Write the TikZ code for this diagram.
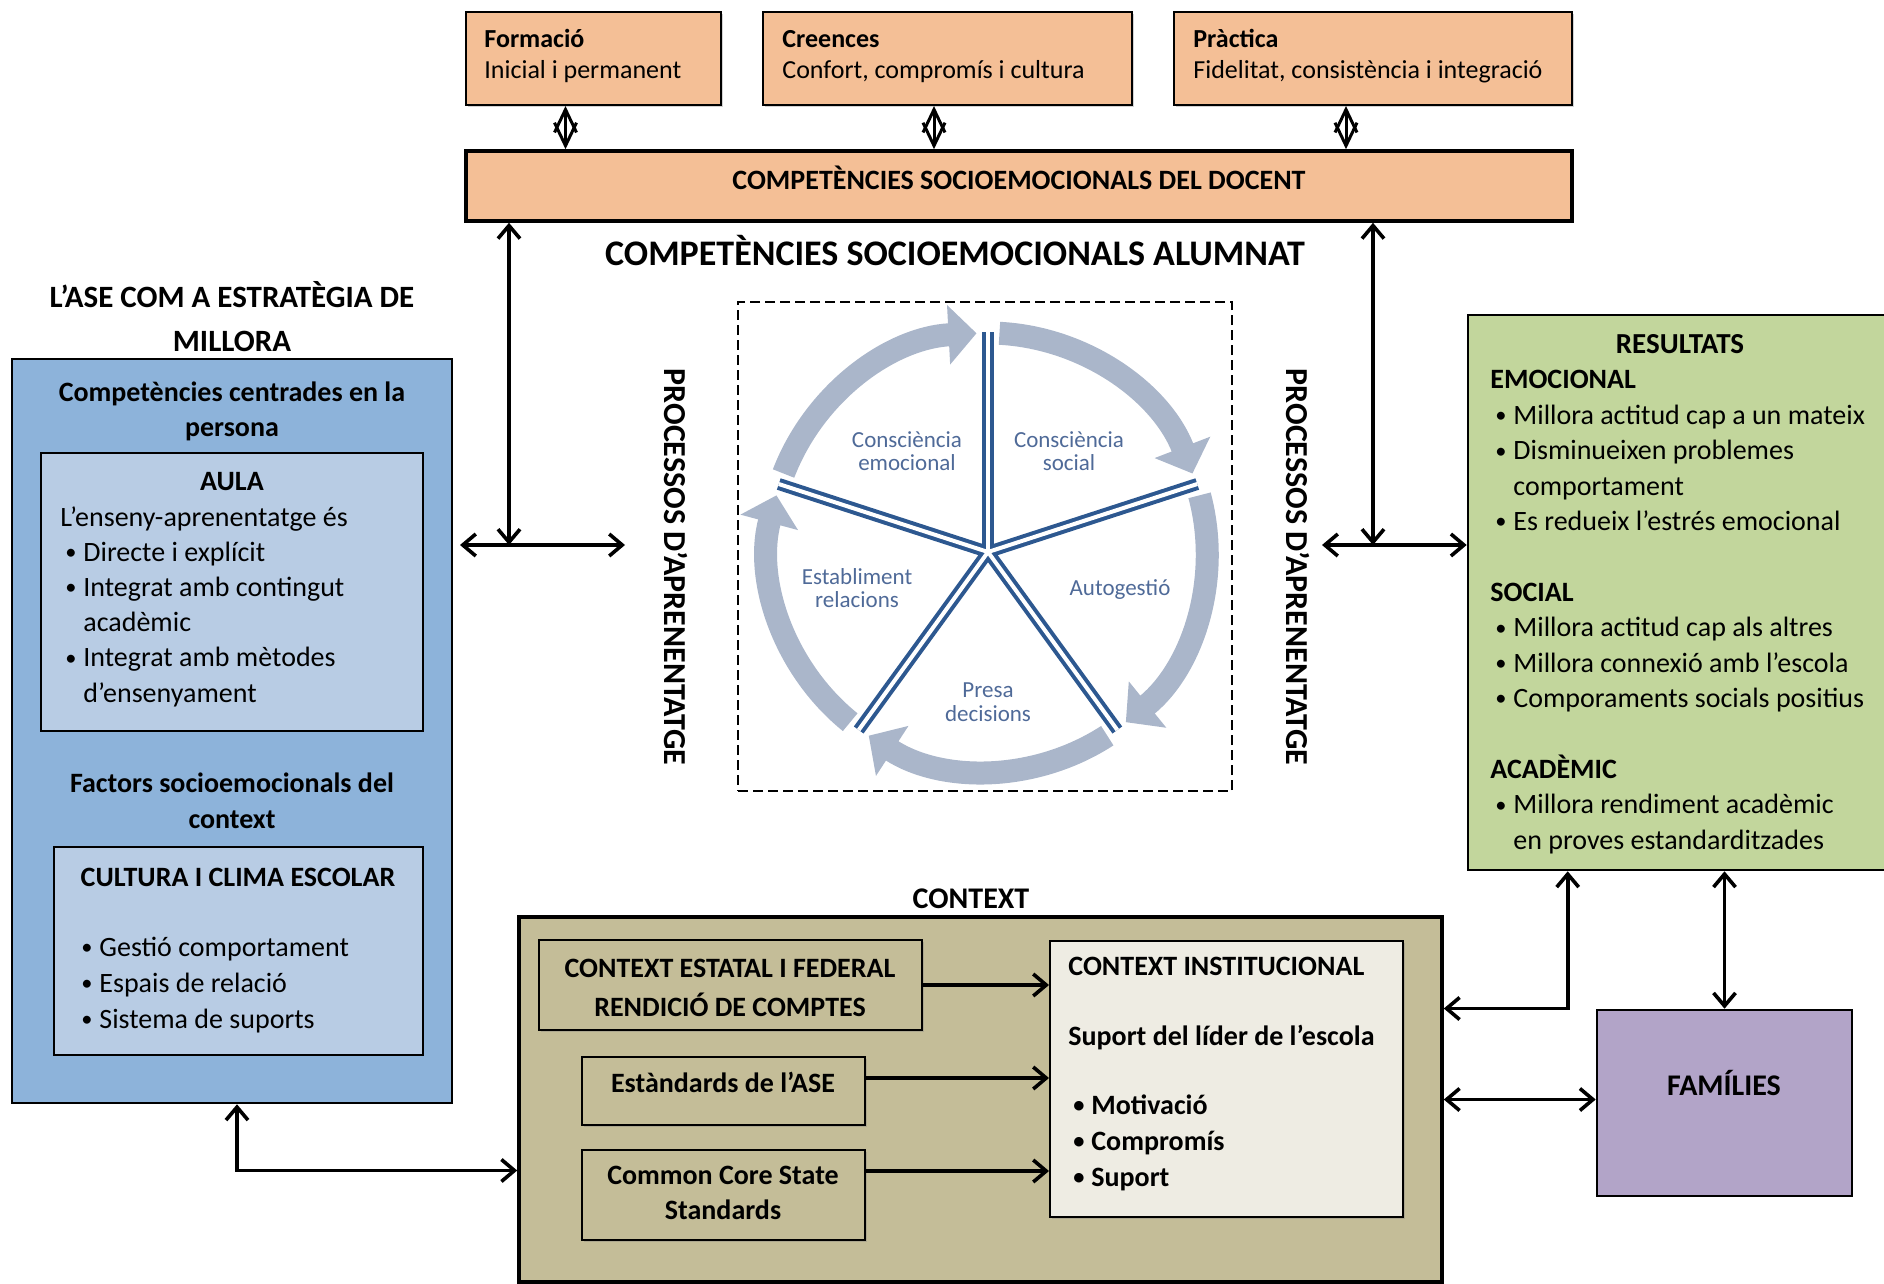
\documentclass[tikz,border=0pt]{standalone}
\usepackage{fontspec}
\setmainfont{Carlito}
\usetikzlibrary{arrows.meta,fit,shadows}

\definecolor{peach}{HTML}{F4BF96}
\definecolor{blueout}{HTML}{8DB3DA}
\definecolor{bluein}{HTML}{B8CCE4}
\definecolor{greenbox}{HTML}{C2D69C}
\definecolor{tanbox}{HTML}{C4BD98}
\definecolor{paper}{HTML}{EEECE3}
\definecolor{lilac}{HTML}{B2A4C8}
\definecolor{ringcol}{HTML}{AAB6CA}
\definecolor{spokecol}{HTML}{2D5890}
\definecolor{wheeltext}{HTML}{4F6A98}

\newcommand\bl{\hspace*{2.5pt}\makebox[9pt][l]{\raisebox{.12ex}{\scalebox{.8}{•}}}}
\newcommand\bc{\hspace*{11.5pt}}
\newcommand\fs[2]{\fontsize{#1}{#2}\selectfont}

\begin{document}
\begin{tikzpicture}[x=0.5pt,y=-0.5pt,
  >={Straight Barb[length=6.5pt,width=11pt]},
  conn/.style={line width=1.8pt,draw=black},
  diam/.style={line width=1.5pt,draw=black,
    {Straight Barb[length=11.5pt,width=11pt]}-{Straight Barb[length=11.5pt,width=11pt]}},
  panel/.style={draw=black,inner sep=0pt},
  shadowed/.style={drop shadow={shadow xshift=1.2pt,shadow yshift=-1.2pt,opacity=.35}},
  ringarc/.style={draw=ringcol,line width=11.5pt,-{Triangle[width=29pt,length=14pt]}},
  wlabel/.style={text=wheeltext,align=center,font=\fs{11.5}{11.8}},
  lbl/.style={inner sep=0pt},
]
\useasboundingbox (0,0) rectangle (1884,1284);
\clip (0,0) rectangle (1884,1284);

% ---------- teacher competences (top) ----------
\node[panel,fill=peach,line width=1pt,shadowed,fit={(466,12)(721,105)}] (fo) {};
\node[panel,fill=peach,line width=1pt,shadowed,fit={(763,12)(1132,105)}] (cr) {};
\node[panel,fill=peach,line width=1pt,shadowed,fit={(1174,12)(1572,105)}] (pr) {};
\node[panel,fill=peach,line width=1.8pt,shadowed,fit={(466,151)(1572,221)}] (doc) {};

% multi-line labels are anchored on the baseline of their last line
\node[lbl,anchor=base west,align=left,font=\fs{13}{15.5}] (foT) at (484,79) {\textbf{Formació}\\Inicial i permanent};
\node[lbl,anchor=base west,align=left,font=\fs{13}{15.5}] (crT) at (782,79) {\textbf{Creences}\\Confort, compromís i cultura};
\node[lbl,anchor=base west,align=left,font=\fs{13}{15.5}] (prT) at (1193,79) {\textbf{Pràctica}\\Fidelitat, consistència i integració};
\node[lbl,anchor=base,font=\fs{14}{17}\bfseries] (docT) at (1019,189) {COMPETÈNCIES SOCIOEMOCIONALS DEL DOCENT};

\draw[diam] ([xshift=-14pt]fo.south) -- ([xshift=-14pt]fo.south |- doc.north);
\draw[diam] ([xshift=-6.75pt]cr.south) -- ([xshift=-6.75pt]cr.south |- doc.north);
\draw[diam] ([xshift=-13.5pt]pr.south) -- ([xshift=-13.5pt]pr.south |- doc.north);

% ---------- student competences (centre) ----------
\node[lbl,anchor=base,font=\fs{18}{21}\bfseries] (titT) at (955,265) {COMPETÈNCIES SOCIOEMOCIONALS ALUMNAT};
\node[draw=black,line width=1.4pt,dash pattern=on 5pt off 2.5pt,inner sep=0pt,fit={(738,302)(1232,791)}] (dash) {};

\node[lbl,rotate=-90,font=\fs{16}{18}\bfseries] (procL) at (676,567) {PROCESSOS D’APRENENTATGE};
\node[lbl,rotate=-90,font=\fs{16}{18}\bfseries] (procR) at (1298,567) {PROCESSOS D’APRENENTATGE};

\begin{scope}[shift={(988,552)}]
  \foreach \s [evaluate=\s as \a using \s-3, evaluate=\s as \b using \s-69] in {90,18,-54,-126,-198}
    \draw[ringarc] (\a:109.5pt) arc[start angle=\a, end angle=\b, radius=109.5pt];
  \foreach \s in {90,18,-54,-126,162}
    \draw[spokecol,line width=6pt] (0,0) -- (\s:110pt);
  \foreach \s in {90,18,-54,-126,162}
    \draw[white,line width=2pt] (0,0) -- (\s:110pt);
\end{scope}
\node[wlabel] (w1) at (907,451) {Consciència\\emocional};
\node[wlabel] (w2) at (1069,451) {Consciència\\social};
\node[wlabel] (w3) at (1120,590) {Autogestió};
\node[wlabel] (w4) at (988,702) {Presa\\decisions};
\node[wlabel] (w5) at (857,588) {Establiment\\relacions};

% ---------- strategy (left) ----------
\node[lbl,anchor=base,align=center,font=\fs{15.5}{22}\bfseries] (aseT) at (232,351) {L’ASE COM A ESTRATÈGIA DE\\MILLORA};
\node[panel,fill=blueout,line width=1.3pt,fit={(12,359)(452,1103)}] (blue) {};
\node[panel,fill=bluein,line width=1pt,fit={(41,453)(423,731)}] (aula) {};
\node[panel,fill=bluein,line width=1pt,fit={(54,847)(423,1055)}] (cult) {};

\node[lbl,anchor=base,align=center,font=\fs{14}{17.5}\bfseries] (compT) at (232,436) {Competències centrades en la\\persona};
\node[lbl,anchor=base,font=\fs{14}{17}\bfseries] (aulaT) at (232,490) {AULA};
\node[lbl,anchor=base west,align=left,font=\fs{14}{17.6}] (aulaL) at (60,702)
  {L’enseny-aprenentatge és\\\bl Directe i explícit\\\bl Integrat amb contingut\\\bc acadèmic\\\bl Integrat amb mètodes\\\bc d’ensenyament};
\node[lbl,anchor=base,align=center,font=\fs{14}{18}\bfseries] (factT) at (232,828) {Factors socioemocionals del\\context};
\node[lbl,anchor=base,font=\fs{14}{17}\bfseries] (cultT) at (238,886) {CULTURA I CLIMA ESCOLAR};
\node[lbl,anchor=base west,align=left,font=\fs{14}{18}] (cultL) at (76,1028)
  {\bl Gestió comportament\\\bl Espais de relació\\\bl Sistema de suports};

% ---------- outcomes (right) ----------
\node[panel,fill=greenbox,line width=1.3pt,fit={(1468,315)(1895,870)}] (res) {};
\node[lbl,anchor=base,font=\fs{14.5}{17}\bfseries] (resT) at (1680,353) {RESULTATS};
\node[lbl,anchor=base west,align=left,font=\fs{14}{17.7}] (resL) at (1490,849)
  {\textbf{EMOCIONAL}\\\bl Millora actitud cap a un mateix\\\bl Disminueixen problemes\\\bc comportament\\\bl Es redueix l’estrés emocional\\[17.7pt]
   \textbf{SOCIAL}\\\bl Millora actitud cap als altres\\\bl Millora connexió amb l’escola\\\bl Comporaments socials positius\\[17.7pt]
   \textbf{ACADÈMIC}\\\bl Millora rendiment acadèmic\\\bc en proves estandarditzades};

% ---------- context (bottom) ----------
\node[lbl,anchor=base,font=\fs{15}{18}\bfseries] (ctxT) at (971,908) {CONTEXT};
\node[panel,fill=tanbox,line width=1.8pt,fit={(519,917)(1442,1282)}] (ctx) {};
\node[panel,fill=tanbox,line width=1pt,shadowed,fit={(539,940)(922,1030)}] (est) {};
\node[panel,fill=tanbox,line width=1pt,shadowed,fit={(582,1057)(865,1125)}] (std) {};
\node[panel,fill=tanbox,line width=1pt,shadowed,fit={(582,1150)(865,1240)}] (ccss) {};
\node[panel,fill=paper,line width=1pt,shadowed,fit={(1050,941)(1403,1217)}] (inst) {};

\node[lbl,anchor=base,align=center,font=\fs{14}{19.5}\bfseries] (estT) at (730,1016) {CONTEXT ESTATAL I FEDERAL\\RENDICIÓ DE COMPTES};
\node[lbl,anchor=base,font=\fs{14}{17}\bfseries] (stdT) at (723,1092) {Estàndards de l’ASE};
\node[lbl,anchor=base,align=center,font=\fs{14}{17.5}\bfseries] (ccT) at (723,1219) {Common Core State\\Standards};
\node[lbl,anchor=base west,font=\fs{14}{17}\bfseries] (instH) at (1068,975) {CONTEXT INSTITUCIONAL};
\node[lbl,anchor=base west,font=\fs{14}{17}\bfseries] (instS) at (1068,1045) {Suport del líder de l’escola};
\node[lbl,anchor=base west,align=left,font=\fs{14}{18}\bfseries] (instL) at (1068,1186) {\bl Motivació\\\bl Compromís\\\bl Suport};

\node[panel,fill=lilac,line width=1.3pt,fit={(1597,1010)(1852,1196)}] (fam) {};
\node[lbl,anchor=base,font=\fs{15}{18}\bfseries] (famT) at (1724,1095) {FAMÍLIES};

% ---------- connectors ----------
\coordinate (jl) at (509,545);
\coordinate (jlw) at (460,545);
\coordinate (jle) at (625,545);
\coordinate (jr) at (1373,545);
\coordinate (jrw) at (1322,545);
\draw[conn,<->] (jl |- doc.south) -- (jl);
\draw[conn,<->] (jlw) -- (jle);
\draw[conn,<->] (jr |- doc.south) -- (jr);
\draw[conn,<->] (jrw) -- (jrw -| res.west);

\draw[conn,<->] ([xshift=2.5pt]blue.south) |- ([yshift=-35.5pt]ctx.west);
\draw[conn,<->] ([yshift=45.5pt]ctx.east) -| ([xshift=50.5pt]res.south west);
\draw[conn,<->] (fam.north |- res.south) -- (fam.north);
\draw[conn,<->] (ctx.east) -- (ctx.east -| fam.west);

\draw[conn,->] (est.east) -- (est.east -| inst.west);
\draw[conn,->] ([yshift=6.5pt]std.east) -- ([yshift=6.5pt]std.east -| inst.west);
\draw[conn,->] ([yshift=12pt]ccss.east) -- ([yshift=12pt]ccss.east -| inst.west);
\end{tikzpicture}
\end{document}
